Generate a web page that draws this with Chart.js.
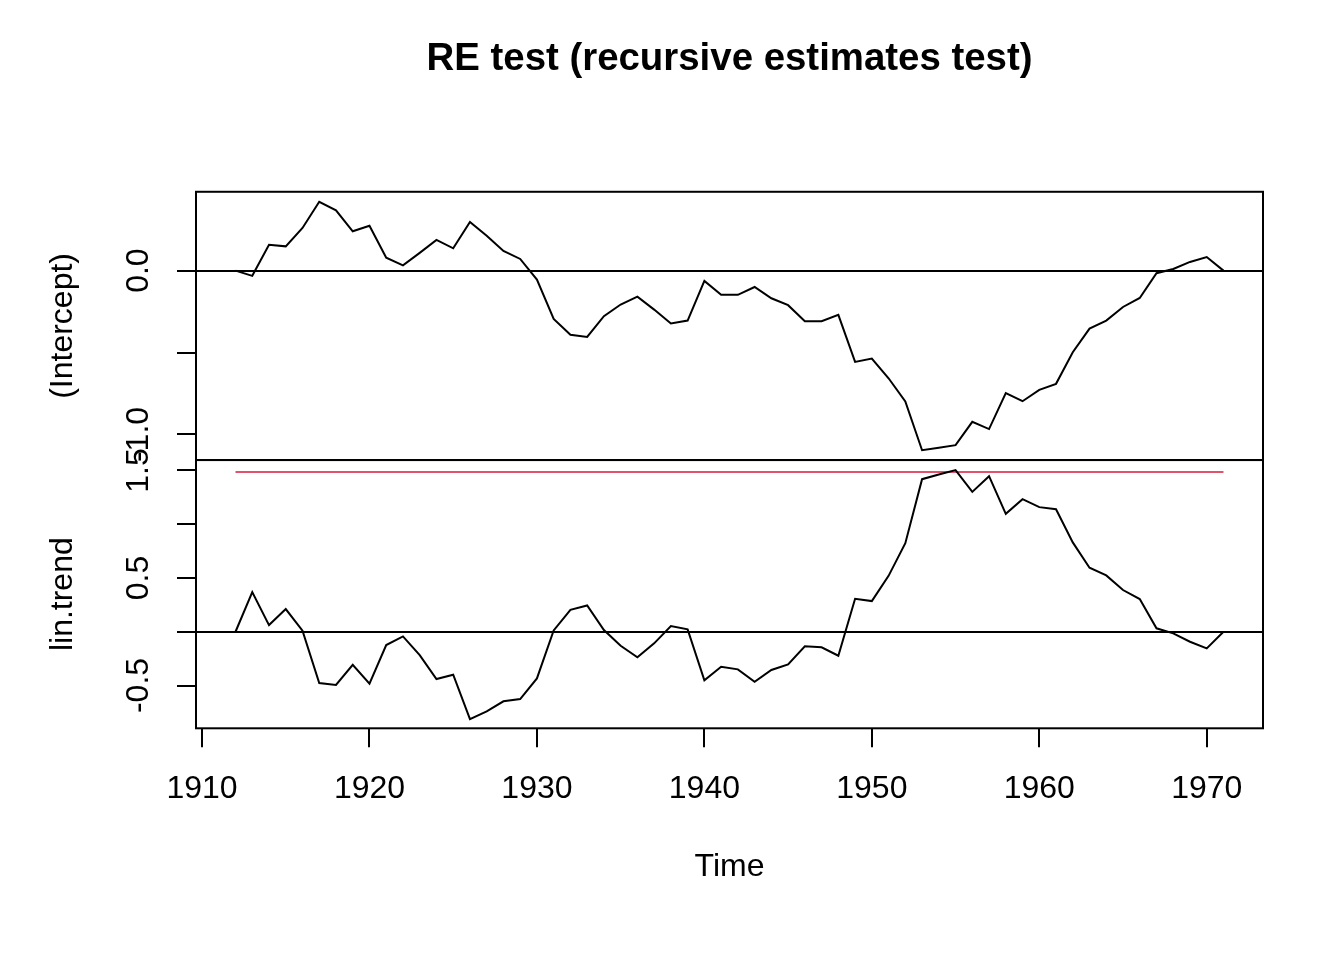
<!DOCTYPE html>
<html>
<head>
<meta charset="utf-8">
<script src="https://cdn.jsdelivr.net/npm/chart.js@4.4.1/dist/chart.umd.min.js"></script>
<style>
  html, body { margin: 0; padding: 0; background: #fff; }
  #wrap { width: 1344px; height: 960px; }
</style>
</head>
<body>
<div id="wrap"><canvas id="c" width="1344" height="960"></canvas></div>
<script>
// ---- data ----
const years = [1912,1913,1914,1915,1916,1917,1918,1919,1920,1921,1922,1923,1924,1925,1926,1927,1928,1929,1930,
  1931,1932,1933,1934,1935,1936,1937,1938,1939,1940,1941,1942,1943,1944,1945,1946,1947,1948,1949,1950,
  1951,1952,1953,1954,1955,1956,1957,1958,1959,1960,1961,1962,1963,1964,1965,1966,1967,1968,1969,1970,1971];

const interceptRE = [0.0,-0.032,0.157,0.148,0.26,0.42,0.368,0.24,0.274,0.079,0.032,0.108,0.187,0.136,0.297,0.213,0.12,0.071,-0.055,
  -0.295,-0.392,-0.405,-0.278,-0.207,-0.159,-0.238,-0.323,-0.305,-0.063,-0.148,-0.148,-0.1,-0.169,-0.211,-0.309,-0.309,-0.27,-0.557,-0.537,
  -0.657,-0.799,-1.096,-1.081,-1.065,-0.923,-0.967,-0.748,-0.797,-0.728,-0.691,-0.498,-0.354,-0.305,-0.222,-0.167,-0.016,0.01,0.053,0.083,0.0];

const linTrendRE = [0.0,0.369,0.062,0.211,0.01,-0.477,-0.495,-0.307,-0.483,-0.124,-0.043,-0.217,-0.44,-0.4,-0.812,-0.74,-0.647,-0.626,-0.434,
  0.012,0.204,0.244,0.016,-0.13,-0.238,-0.108,0.053,0.022,-0.452,-0.325,-0.35,-0.465,-0.356,-0.303,-0.136,-0.145,-0.223,0.307,0.285,
  0.52,0.824,1.419,1.463,1.503,1.301,1.447,1.097,1.233,1.159,1.14,0.831,0.595,0.524,0.388,0.304,0.032,-0.015,-0.093,-0.155,0.0];

const boundary = 1.485;

const xTicks = [1910,1920,1930,1940,1950,1960,1970];
const xTickLabels = ['1910','1920','1930','1940','1950','1960','1970'];
const topTicks = [-1.0,-0.5,0.0];
const topTickLabels = ['-1.0','','0.0'];
const botTicks = [-0.5,0.0,0.5,1.0,1.5];
const botTickLabels = ['-0.5','','0.5','','1.5'];

const titleText = 'RE test (recursive estimates test)';
const xTitle = 'Time';
const topTitle = '(Intercept)';
const botTitle = 'lin.trend';

// ---- chart ----
const FONT = 'Liberation Sans, Arial, Helvetica, sans-serif';
Chart.defaults.font.family = FONT;
Chart.defaults.color = '#000';

const toXY = (vals) => vals.map((v, i) => ({x: years[i], y: v}));

const panelBox = {
  id: 'panelBox',
  afterDraw(chart) {
    const {ctx, chartArea} = chart;
    ctx.save();
    ctx.strokeStyle = '#000';
    ctx.lineWidth = 2;
    ['yTop', 'yBot'].forEach(id => {
      const s = chart.scales[id];
      ctx.strokeRect(chartArea.left, s.top, chartArea.right - chartArea.left, s.bottom - s.top);
    });
    ctx.restore();
  }
};

function yScale(ticks, labels, min, max, title) {
  return {
    type: 'linear',
    position: 'left',
    stack: 'panels',
    stackWeight: 1,
    min: min,
    max: max,
    afterBuildTicks: s => { s.ticks = ticks.map(v => ({value: v})); },
    afterFit: s => { s.width = 196; },
    ticks: {
      autoSkip: false,
      minRotation: 90,
      maxRotation: 90,
      crossAlign: 'center',
      padding: 10,
      font: {size: 32},
      color: '#000',
      callback: v => { const i = ticks.indexOf(v); return i >= 0 ? labels[i] : ''; }
    },
    grid: {
      drawOnChartArea: true,
      drawTicks: true,
      tickLength: 19,
      tickColor: '#000',
      tickWidth: 2,
      lineWidth: 2,
      color: ctx => (ctx.tick && ctx.tick.value === 0) ? '#000' : 'rgba(0,0,0,0)'
    },
    border: {display: false},
    title: {
      display: true,
      text: title,
      font: {size: 32},
      color: '#000',
      padding: {top: 44, bottom: 0}
    }
  };
}

new Chart(document.getElementById('c'), {
  type: 'line',
  data: {
    datasets: [
      {label: topTitle, data: toXY(interceptRE), yAxisID: 'yTop', xAxisID: 'x',
       borderColor: '#000', borderWidth: 2, pointRadius: 0, tension: 0, fill: false},
      {label: botTitle, data: toXY(linTrendRE), yAxisID: 'yBot', xAxisID: 'x',
       borderColor: '#000', borderWidth: 2, pointRadius: 0, tension: 0, fill: false},
      {label: 'boundary', data: [{x: years[0], y: boundary}, {x: years[years.length - 1], y: boundary}],
       yAxisID: 'yBot', xAxisID: 'x',
       borderColor: '#DF536B', borderWidth: 2, pointRadius: 0, tension: 0, fill: false}
    ]
  },
  options: {
    responsive: false,
    animation: false,
    devicePixelRatio: 1,
    events: [],
    layout: {padding: {left: 0, right: 81, top: 0, bottom: 0}},
    plugins: {
      legend: {display: false},
      tooltip: {enabled: false},
      title: {
        display: true,
        text: titleText,
        fullSize: false,
        color: '#000',
        font: {size: 38.4, weight: 'bold'},
        padding: {top: 36.7, bottom: 109}
      }
    },
    scales: {
      x: {
        type: 'linear',
        position: 'bottom',
        min: 1909.64,
        max: 1973.36,
        afterBuildTicks: s => { s.ticks = xTicks.map(v => ({value: v})); },
        afterFit: s => { s.height = 231.7; },
        ticks: {
          autoSkip: false,
          maxRotation: 0,
          padding: 23,
          font: {size: 32},
          color: '#000',
          callback: v => { const i = xTicks.indexOf(v); return i >= 0 ? xTickLabels[i] : ''; }
        },
        grid: {
          drawOnChartArea: false,
          drawTicks: true,
          tickLength: 19,
          tickColor: '#000',
          tickWidth: 2,
          lineWidth: 2,
          color: '#000'
        },
        border: {display: false},
        title: {
          display: true,
          text: xTitle,
          font: {size: 32},
          color: '#000',
          padding: {top: 0, bottom: 74}
        }
      },
      // bottom panel defined first: stacked left axes are placed with the last-defined on top
      yBot: yScale(botTicks, botTickLabels, -0.898, 1.597, botTitle),
      yTop: yScale(topTicks, topTickLabels, -1.156, 0.481, topTitle)
    }
  },
  plugins: [panelBox]
});
</script>
</body>
</html>
